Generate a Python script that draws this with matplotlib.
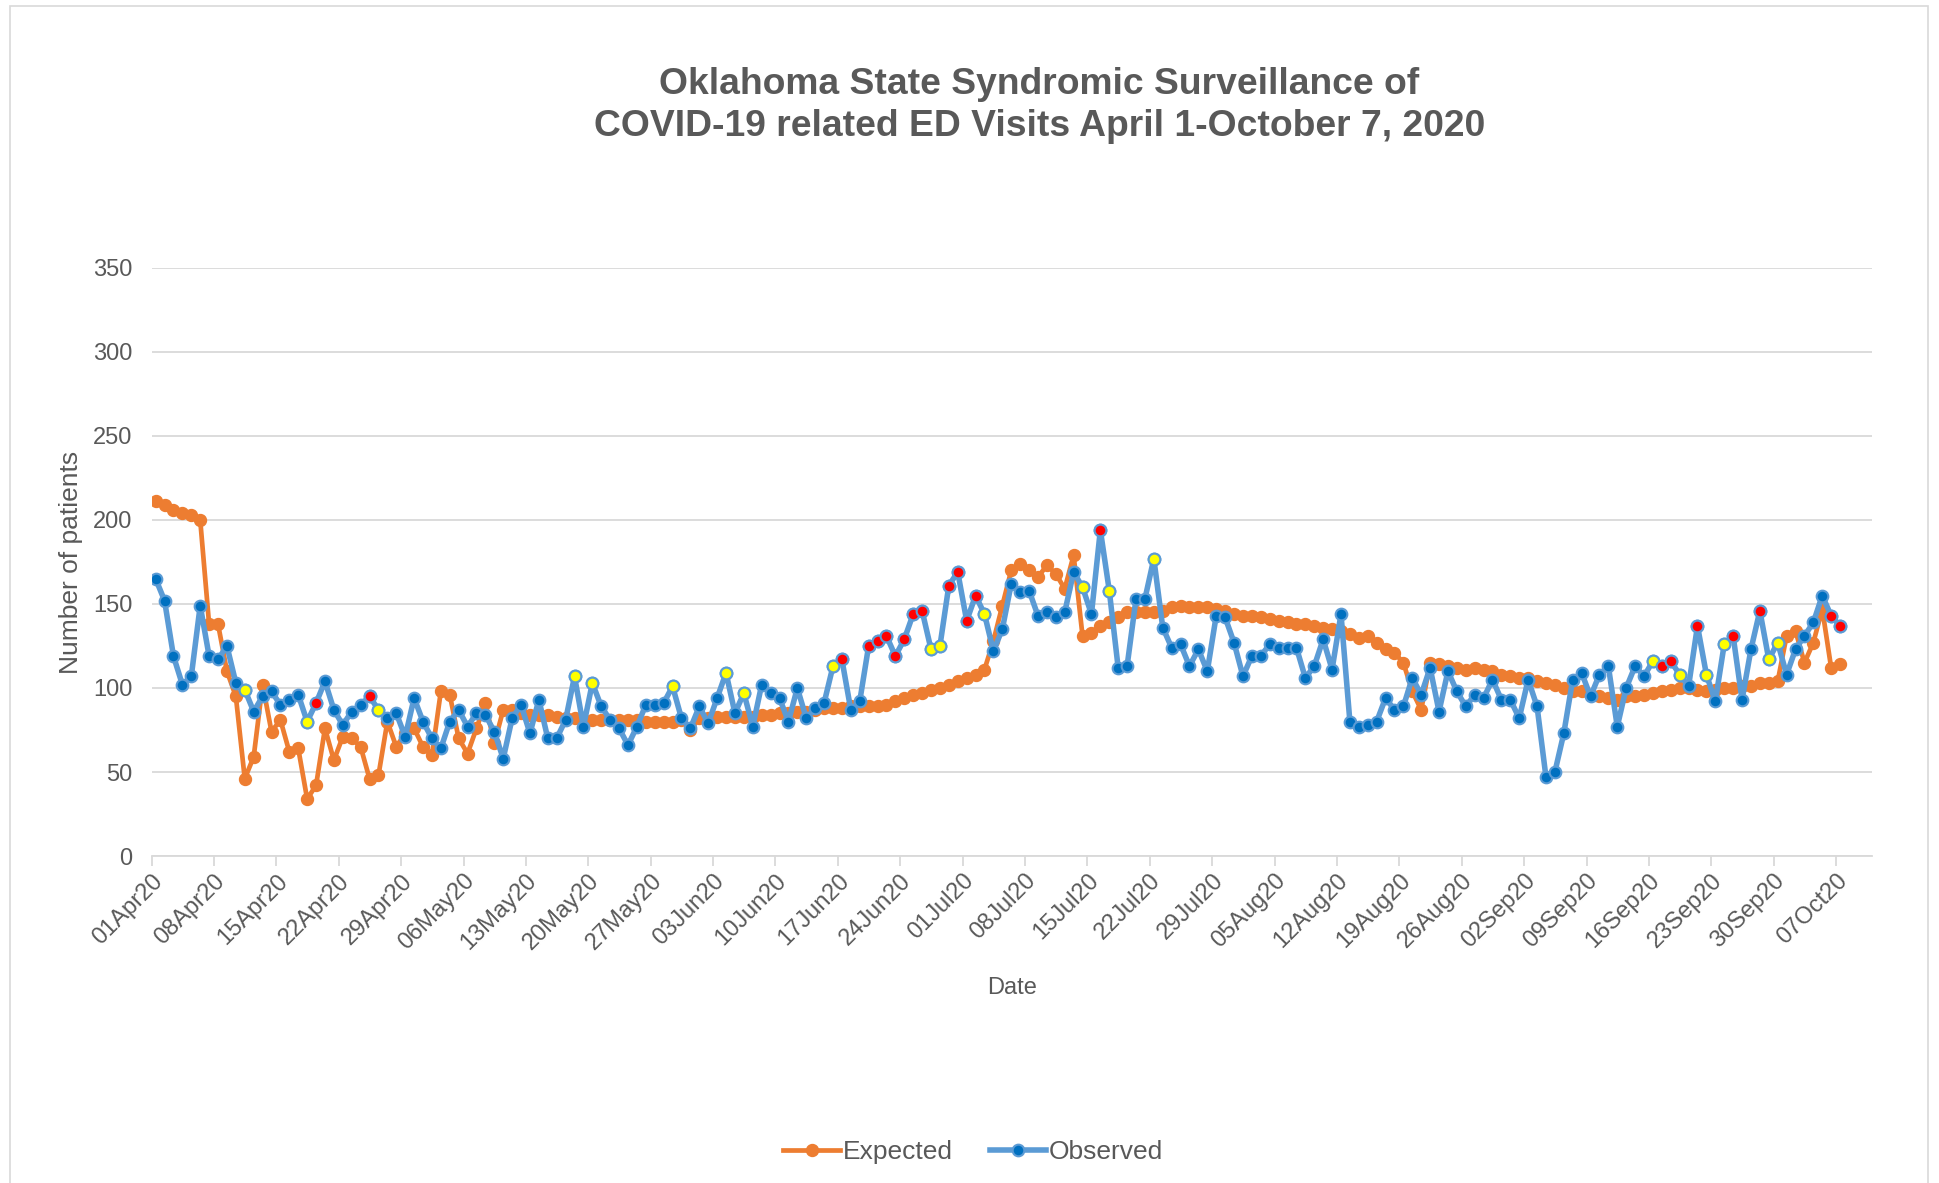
import numpy as np
import pandas as pd
import matplotlib
matplotlib.use("Agg")
import matplotlib.pyplot as plt
from matplotlib.lines import Line2D
from matplotlib.patches import Rectangle

# daily counts, 01 Apr 2020 .. 07 Oct 2020
start_date = "2020-04-01"
end_date = "2020-10-07"

expected = [
    211, 209, 206, 204, 203, 200, 138, 138, 110, 95, 46, 59, 102, 74, 81, 62, 64, 34, 42, 76, 57, 71, 70, 65, 46,
    48, 80, 65, 73, 76, 65, 60, 98, 96, 70, 61, 76, 91, 67, 87, 87, 85, 84, 84, 84, 83, 82, 82, 81,
    81, 81, 81, 81, 81, 81, 80, 80, 80, 80, 81, 75, 82, 82, 83, 83, 83, 83, 83, 84, 84, 85, 85, 86, 86,
    87, 88, 88, 88, 89, 89, 89, 89, 90, 92, 94, 96, 97, 99, 100, 102, 104, 106, 108, 111, 128, 149, 170, 174, 170,
    166, 173, 168, 159, 179, 131, 133, 137, 139, 142, 145, 145, 145, 145, 146, 148, 149, 148, 148, 148, 147, 146, 144, 143, 143,
    142, 141, 140, 139, 138, 138, 137, 136, 135, 134, 132, 130, 131, 127, 123, 121, 115, 98, 87, 115, 114, 113, 112, 111,
    112, 111, 110, 108, 107, 106, 106, 104, 103, 102, 100, 98, 98, 96, 95, 94, 93, 95, 95, 96, 97, 98, 99, 100, 100,
    99, 98, 99, 100, 100, 101, 101, 103, 103, 104, 131, 134, 115, 127, 147, 112, 114,
]

observed = [
    165, 152, 119, 102, 107, 149, 119, 117, 125, 103, 99, 86, 95, 98, 90, 93, 96, 80, 91, 104, 87, 78, 86, 90, 95,
    87, 82, 85, 71, 94, 80, 70, 64, 80, 87, 77, 85, 84, 74, 58, 82, 90, 73, 93, 70, 70, 81, 107, 77,
    103, 89, 81, 76, 66, 77, 90, 90, 91, 101, 82, 76, 89, 79, 94, 109, 85, 97, 77, 102, 97, 94, 80, 100, 82,
    88, 91, 113, 117, 87, 92, 125, 128, 131, 119, 129, 144, 146, 123, 125, 161, 169, 140, 155, 144, 122, 135, 162, 157, 158,
    143, 145, 142, 145, 169, 160, 144, 194, 158, 112, 113, 153, 153, 177, 136, 124, 126, 113, 123, 110, 143, 142, 127, 107, 119,
    119, 126, 124, 124, 124, 106, 113, 129, 111, 144, 80, 77, 78, 80, 94, 87, 89, 106, 96, 112, 86, 110, 98, 89,
    96, 94, 105, 93, 93, 82, 105, 89, 47, 50, 73, 105, 109, 95, 108, 113, 77, 100, 113, 107, 116, 113, 116, 108, 101,
    137, 108, 92, 126, 131, 93, 123, 146, 117, 127, 108, 123, 131, 139, 155, 143, 137,
]

# days flagged as warning (yellow) / alert (red)
warning_days = [10, 17, 25, 47, 49, 58, 64, 66, 76, 87, 88, 93, 104, 107, 112,
                168, 171, 174, 176, 181, 182]
alert_days = [18, 24, 77, 80, 81, 82, 83, 84, 85, 86, 89, 90, 91, 92, 106,
              169, 170, 173, 177, 180, 188, 189]

dates = pd.date_range(start_date, end_date, freq="D")
assert len(dates) == len(expected) == len(observed)

ORANGE = "#ED7D31"
BLUE_LINE = "#5B9BD5"
BLUE_DOT = "#0070C0"
GRID = "#D9D9D9"
TXT = "#595959"

plt.rcParams["font.family"] = ["Liberation Sans", "DejaVu Sans"]

fig = plt.figure(figsize=(19.39, 11.83), dpi=100)
ax = fig.add_axes([0.0782, 0.2764, 0.8871, 0.4971])

x = np.arange(len(dates)) + 0.45
exp = np.array(expected, dtype=float)
obs = np.array(observed, dtype=float)

exp_style = dict(color=ORANGE, lw=3.4, marker="o", ms=8.6, mfc=ORANGE, mec=ORANGE)
obs_style = dict(color=BLUE_LINE, lw=4.0, marker="o", ms=8.4, mfc=BLUE_DOT,
                 mec=BLUE_LINE, mew=1.5)

ax.plot(x, exp, zorder=3, **exp_style)
ax.plot(x, obs, zorder=4, **obs_style)
ax.plot(x[warning_days], obs[warning_days], ls="none", marker="o", ms=8.4,
        mfc="#FFFF00", mec=BLUE_LINE, mew=1.5, zorder=5)
ax.plot(x[alert_days], obs[alert_days], ls="none", marker="o", ms=8.4,
        mfc="#FF0000", mec=BLUE_LINE, mew=1.5, zorder=5)

ax.set_xlim(0, 193)
ax.set_ylim(0, 350)
ax.set_yticks(np.arange(0, 351, 50))
ticks = np.arange(0, len(dates), 7)
ax.set_xticks(ticks)
ax.set_xticklabels([dates[i].strftime("%d%b%y") for i in ticks],
                   rotation=45, ha="right", rotation_mode="anchor")

for s in ["left", "right", "top"]:
    ax.spines[s].set_visible(False)
ax.spines["bottom"].set_color(GRID)
ax.spines["bottom"].set_linewidth(1.3)
ax.grid(axis="y", color=GRID, lw=1.3)
ax.set_axisbelow(True)
ax.tick_params(axis="x", length=7, width=1.3, color=GRID, labelsize=17,
               labelcolor=TXT, pad=3)
ax.tick_params(axis="y", length=0, labelsize=17, labelcolor=TXT, pad=14)

ax.set_ylabel("Number of patients", fontsize=19, color=TXT)
ax.yaxis.set_label_coords(-0.040, 0.5)
ax.set_xlabel("Date", fontsize=17, color=TXT)
ax.xaxis.set_label_coords(0.5, -0.206)

fig.text(0.536, 0.911,
         "Oklahoma State Syndromic Surveillance of\nCOVID-19 related ED Visits April 1-October 7, 2020",
         ha="center", va="center", fontsize=26.8, fontweight="bold", color=TXT,
         linespacing=1.25)

handles = [Line2D([], [], **exp_style), Line2D([], [], **obs_style)]
fig.legend(handles, ["Expected", "Observed"], loc="center", bbox_to_anchor=(0.502, 0.026),
           ncol=2, frameon=False, fontsize=19, labelcolor=TXT, handlelength=2.15,
           handletextpad=0.1, columnspacing=1.4)

# chart area border
fig.patches.append(Rectangle((0.0052, -0.01), 0.9891, 1.005, transform=fig.transFigure,
                             fill=False, ec=GRID, lw=1.2))

fig.savefig("out.png", dpi=100, facecolor="white")
